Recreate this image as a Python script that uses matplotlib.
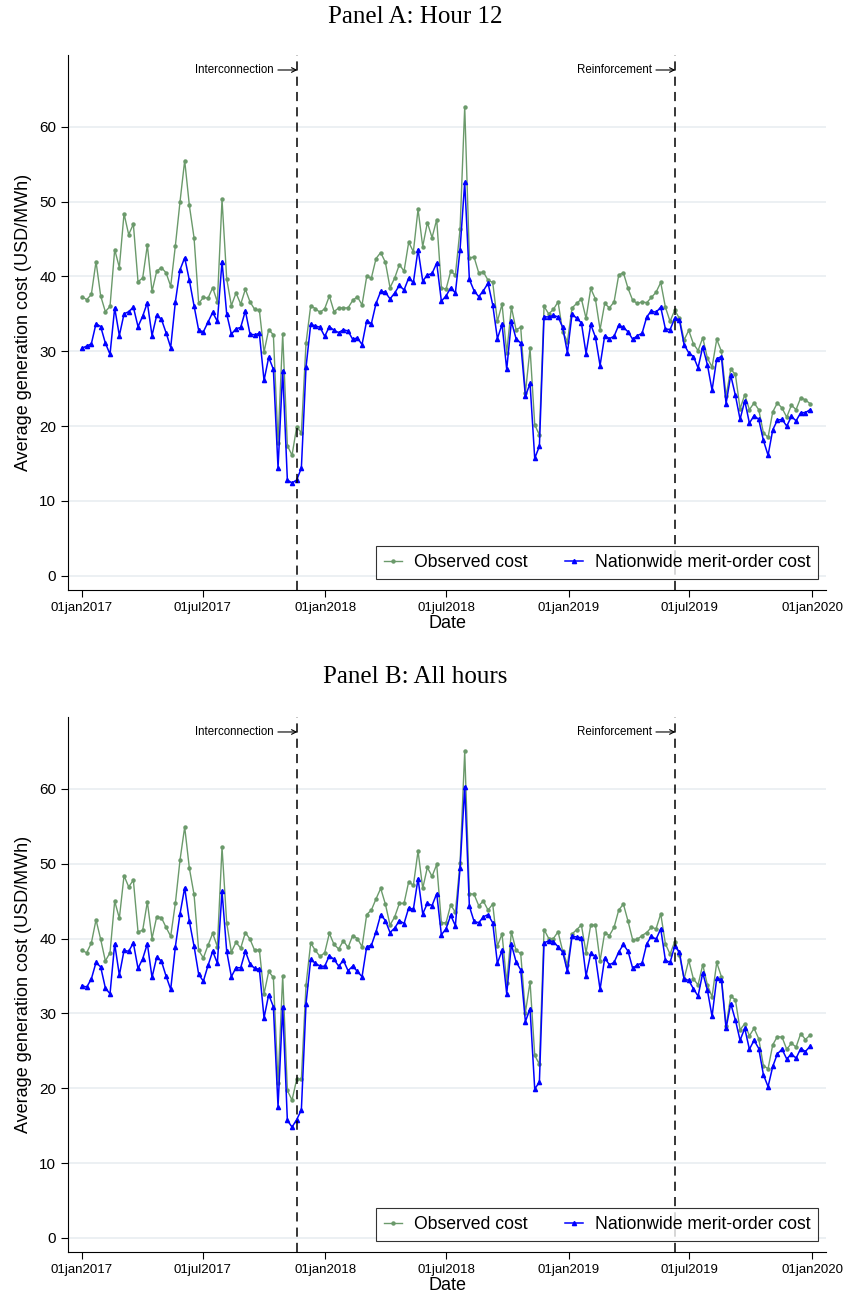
import numpy as np
import pandas as pd
import matplotlib
matplotlib.use("Agg")
from matplotlib import pyplot as plt

# weekly observations, 01jan2017 .. 29dec2019
dates = pd.date_range("2017-01-01", periods=157, freq="7D")

obs_a = [37.3, 36.9, 37.6, 42.0, 37.4, 35.3, 36.0, 43.6, 41.2, 48.4,
         45.6, 47.0, 39.3, 39.8, 44.2, 38.0, 40.7, 41.2, 40.5, 38.7,
         44.1, 50.0, 55.5, 49.5, 45.2, 36.4, 37.2, 37.1, 38.5, 36.6,
         50.3, 39.7, 36.1, 37.8, 36.3, 38.3, 36.6, 35.6, 35.5, 29.9,
         32.9, 32.2, 17.8, 32.3, 17.4, 16.1, 19.9, 19.1, 31.1, 36.1,
         35.7, 35.2, 35.7, 37.4, 35.3, 35.8, 35.8, 35.8, 36.8, 37.3,
         36.2, 40.0, 39.8, 42.4, 43.2, 41.9, 38.5, 39.8, 41.6, 40.7,
         44.6, 43.3, 49.0, 44.0, 47.2, 45.2, 47.6, 38.5, 38.3, 40.7,
         40.2, 46.3, 62.7, 42.5, 42.6, 40.5, 40.6, 39.5, 39.2, 34.0,
         36.3, 29.8, 35.9, 32.9, 33.2, 24.4, 30.4, 20.2, 18.8, 36.0,
         35.0, 35.6, 36.6, 32.6, 31.3, 35.8, 36.4, 37.0, 34.4, 38.4,
         37.0, 32.9, 36.4, 35.8, 36.6, 40.2, 40.5, 38.4, 36.8, 36.4,
         36.6, 36.5, 37.2, 37.9, 39.2, 35.9, 34.0, 35.5, 34.4, 31.5,
         32.8, 31.0, 30.1, 31.8, 29.1, 27.9, 31.6, 30.0, 24.0, 27.6,
         26.9, 22.3, 24.2, 22.2, 23.1, 22.2, 19.1, 18.5, 21.9, 23.1,
         22.4, 21.2, 22.8, 22.2, 23.8, 23.5, 23.0]

mo_a = [30.4, 30.7, 31.0, 33.7, 33.3, 31.1, 29.6, 35.8, 32.1, 35.0,
        35.3, 35.9, 33.3, 34.7, 36.5, 32.1, 34.8, 34.3, 32.5, 30.5,
        36.6, 40.9, 42.5, 39.5, 36.1, 32.8, 32.6, 33.9, 35.2, 34.0,
        42.0, 35.0, 32.3, 33.0, 33.2, 35.4, 32.3, 32.2, 32.4, 26.1,
        29.2, 27.6, 14.4, 27.4, 12.8, 12.4, 12.8, 14.4, 27.9, 33.6,
        33.4, 33.2, 32.0, 33.3, 32.8, 32.5, 32.9, 32.7, 31.6, 31.8,
        30.9, 34.1, 33.7, 36.4, 38.0, 37.9, 37.0, 37.8, 38.8, 38.2,
        39.8, 39.2, 43.6, 39.4, 40.2, 40.4, 41.8, 36.7, 37.4, 38.5,
        37.8, 43.6, 52.6, 39.6, 38.1, 37.3, 38.1, 39.1, 36.2, 31.7,
        33.6, 27.6, 34.0, 31.7, 31.1, 24.0, 25.7, 15.7, 17.3, 34.6,
        34.6, 34.8, 34.6, 33.2, 29.8, 35.0, 34.4, 33.8, 29.7, 33.6,
        31.9, 28.1, 32.1, 31.7, 32.0, 33.5, 33.2, 32.6, 31.6, 32.1,
        32.4, 34.6, 35.4, 35.2, 35.9, 33.0, 32.9, 34.4, 34.2, 30.9,
        29.8, 29.3, 27.8, 30.6, 28.2, 24.8, 29.0, 29.3, 23.0, 26.8,
        24.1, 20.9, 23.4, 20.4, 21.4, 20.9, 18.1, 16.1, 19.5, 20.8,
        20.9, 20.0, 21.3, 20.7, 21.8, 21.8, 22.2]

obs_b = [38.4, 38.1, 39.4, 42.5, 39.9, 37.0, 38.1, 45.0, 42.7, 48.4,
         46.9, 47.8, 40.9, 41.1, 44.9, 40.0, 42.9, 42.8, 41.5, 40.3,
         44.7, 50.5, 54.9, 49.4, 45.9, 38.4, 37.4, 39.1, 40.7, 38.9,
         52.2, 42.1, 38.2, 39.5, 38.7, 40.8, 39.9, 38.4, 38.5, 32.6,
         35.6, 34.8, 20.7, 35.0, 19.7, 18.4, 21.2, 21.2, 33.8, 39.4,
         38.4, 37.6, 38.1, 40.7, 39.2, 38.6, 39.7, 38.8, 40.4, 40.0,
         38.9, 43.2, 43.8, 45.3, 46.7, 44.6, 41.8, 42.9, 44.7, 44.7,
         47.6, 47.1, 51.7, 46.7, 49.5, 48.3, 49.9, 42.1, 42.1, 44.5,
         43.5, 50.1, 65.0, 46.0, 45.9, 44.4, 45.0, 43.8, 44.6, 39.0,
         40.6, 34.1, 40.9, 38.4, 38.0, 30.1, 34.2, 24.4, 23.2, 41.2,
         40.0, 40.0, 40.9, 38.3, 36.5, 40.6, 41.2, 41.8, 38.1, 41.8,
         41.8, 37.0, 40.8, 40.4, 41.5, 43.8, 44.6, 42.3, 39.8, 39.9,
         40.4, 40.8, 41.5, 41.3, 43.3, 39.3, 37.9, 39.6, 37.8, 34.6,
         37.1, 34.6, 33.8, 36.5, 33.8, 32.2, 36.8, 34.9, 28.3, 32.3,
         31.8, 27.8, 28.6, 27.0, 28.0, 26.6, 23.0, 22.6, 25.8, 26.9,
         26.8, 25.2, 26.0, 25.5, 27.3, 26.5, 27.1]

mo_b = [33.7, 33.5, 34.6, 36.8, 36.2, 33.4, 32.6, 39.3, 35.1, 38.4,
        38.3, 39.4, 36.0, 37.3, 39.3, 34.8, 37.5, 37.0, 35.0, 33.2,
        38.9, 43.3, 46.8, 42.3, 39.0, 35.2, 34.3, 36.4, 38.3, 36.7,
        46.3, 38.3, 34.9, 36.1, 36.1, 38.3, 36.6, 36.0, 35.9, 29.4,
        32.5, 30.9, 17.5, 30.9, 15.7, 14.8, 15.8, 17.1, 31.3, 37.2,
        36.7, 36.3, 36.3, 37.7, 37.2, 36.3, 37.1, 35.7, 36.3, 35.6,
        34.9, 38.9, 39.1, 40.9, 43.2, 42.4, 40.8, 41.4, 42.4, 42.0,
        44.1, 43.9, 48.0, 43.3, 44.7, 44.4, 46.0, 40.5, 41.3, 43.1,
        41.7, 49.4, 60.3, 44.3, 42.3, 42.1, 42.9, 43.2, 42.1, 36.7,
        38.4, 32.6, 39.2, 36.9, 35.8, 28.9, 30.6, 19.9, 20.8, 39.4,
        39.7, 39.6, 38.9, 38.2, 35.6, 40.3, 40.2, 40.1, 35.0, 38.0,
        37.6, 33.2, 37.4, 36.5, 36.8, 38.2, 39.2, 38.3, 36.0, 36.5,
        36.7, 39.3, 40.3, 39.9, 41.3, 37.1, 36.8, 39.0, 38.2, 34.6,
        34.4, 33.3, 32.3, 35.4, 33.1, 29.6, 34.7, 34.5, 28.0, 31.3,
        29.1, 26.4, 28.0, 25.2, 26.4, 25.3, 21.8, 20.2, 22.9, 24.6,
        25.2, 23.9, 24.6, 24.0, 25.3, 24.9, 25.6]

events = [("Interconnection", "2017-11-20"), ("Reinforcement", "2019-06-10")]
xtick_dates = ["2017-01-01", "2017-07-01", "2018-01-01", "2018-07-01",
               "2019-01-01", "2019-07-01", "2020-01-01"]
xtick_labels = ["01jan2017", "01jul2017", "01jan2018", "01jul2018",
                "01jan2019", "01jul2019", "01jan2020"]

GREEN = "#6b9a6b"
BLUE = "#0000ff"
GRID = "#eaeff2"


def draw_panel(ax, obs, mo):
    for v in range(0, 70, 10):
        ax.axhline(v, color=GRID, lw=1.3, zorder=0)
    ax.plot(dates, obs, color=GREEN, lw=1.0, marker="o", ms=2.2,
            label="Observed cost", zorder=3)
    ax.plot(dates, mo, color=BLUE, lw=1.1, marker="^", ms=3.0,
            label="Nationwide merit-order cost", zorder=4)

    for name, d in events:
        d = pd.Timestamp(d)
        ax.axvline(d, color="black", lw=1.1, ls=(0, (6, 4)), zorder=5)
        ax.annotate(name, xy=(d, 67.6), xytext=(-17, 0), textcoords="offset points",
                    ha="right", va="center", fontsize=8.3,
                    arrowprops=dict(arrowstyle="->", lw=0.8, color="black",
                                    shrinkA=1, shrinkB=0))

    ax.set_xlim(pd.Timestamp("2016-12-11"), pd.Timestamp("2020-01-22"))
    ax.set_ylim(-1.9, 69.6)
    ax.set_xticks(pd.to_datetime(xtick_dates))
    ax.set_xticklabels(xtick_labels)
    ax.set_yticks(range(0, 70, 10))
    ax.tick_params(axis="x", labelsize=9.5, length=5, width=0.8)
    ax.tick_params(axis="y", labelsize=11, length=5, width=0.8)
    for s in ["top", "right"]:
        ax.spines[s].set_visible(False)
    ax.set_xlabel("Date", fontsize=13, labelpad=1)
    ax.set_ylabel("Average generation cost (USD/MWh)", fontsize=13, labelpad=5)
    leg = ax.legend(loc="lower right", bbox_to_anchor=(0.99, 0.02), ncol=2,
                    fontsize=12.7, frameon=True, fancybox=False, handlelength=1.0,
                    handletextpad=0.7, columnspacing=2.1, borderpad=0.45,
                    borderaxespad=0, edgecolor="black")
    leg.get_frame().set_linewidth(0.8)


def main():
    plt.rcParams["font.family"] = ["Liberation Sans", "DejaVu Sans"]
    fig = plt.figure(figsize=(8.47, 12.98), dpi=100)

    ax_a = fig.add_axes([0.0803, 0.5455, 0.895, 0.4121])
    ax_b = fig.add_axes([0.0803, 0.0354, 0.895, 0.4122])
    draw_panel(ax_a, obs_a, mo_a)
    draw_panel(ax_b, obs_b, mo_b)

    fig.text(0.49, 0.987, "Panel A: Hour 12", ha="center", va="center",
             fontsize=18, family="Liberation Serif")
    fig.text(0.49, 0.4784, "Panel B: All hours", ha="center", va="center",
             fontsize=18, family="Liberation Serif")

    fig.savefig("out.png", dpi=100)


if __name__ == "__main__":
    main()
